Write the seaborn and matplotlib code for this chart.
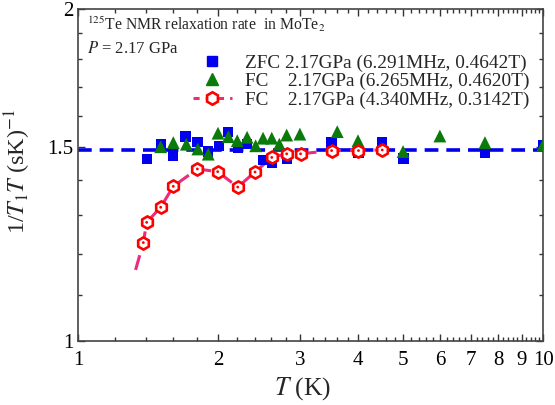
import numpy as np
import matplotlib
matplotlib.use("Agg")
import matplotlib.pyplot as plt
from matplotlib.lines import Line2D
from matplotlib.ticker import FixedLocator, NullFormatter, FixedFormatter
import seaborn as sns

# ---- data ----
zfc_T = [1.405, 1.506, 1.603, 1.704, 1.806, 1.906, 2.007, 2.105, 2.21, 2.305,
         2.503, 2.61, 2.81, 3.51, 4.01, 4.51, 5.01, 7.5, 10.0]
zfc_v = [1.462, 1.508, 1.472, 1.532, 1.516, 1.485, 1.503, 1.548, 1.495, 1.508,
         1.459, 1.449, 1.462, 1.513, 1.480, 1.513, 1.464, 1.482, 1.506]

fc1_T = [1.506, 1.603, 1.71, 1.81, 1.906, 2.0, 2.105, 2.2, 2.31, 2.41, 2.5, 2.61,
         2.71, 2.81, 3.0, 3.61, 4.0, 5.0, 6.0, 7.5, 10.0]
fc1_v = [1.500, 1.513, 1.508, 1.493, 1.477, 1.543, 1.532, 1.519, 1.530, 1.503,
         1.527, 1.527, 1.508, 1.537, 1.540, 1.548, 1.519, 1.485, 1.534, 1.513, 1.506]

fc2_T = [1.382, 1.405, 1.506, 1.603, 1.806, 1.997, 2.205, 2.403, 2.61, 2.81,
         3.01, 3.51, 4.01, 4.51]
fc2_v = [1.228, 1.281, 1.322, 1.381, 1.432, 1.424, 1.379, 1.423, 1.467, 1.478,
         1.478, 1.488, 1.488, 1.490]

guide_T = [1.33] + fc2_T
guide_v = [1.16] + fc2_v

ref_level = 1.49

x_ticks = [1, 2, 3, 4, 5, 6, 7, 8, 9, 10]
x_labels = ["1", "2", "3", "4", "5", "6", "7", "8", "9", "10"]
y_ticks = [1, 1.5, 2]
y_labels = ["1", "1.5", "2"]

labels = ["ZFC 2.17GPa (6.291MHz, 0.4642T)",
          "FC    2.17GPa (6.265MHz, 0.4620T)",
          "FC    2.17GPa (4.340MHz, 0.3142T)"]

# ---- style ----
sns.set_style("ticks")
plt.rcParams["font.family"] = ["Liberation Serif", "DejaVu Serif"]
plt.rcParams["mathtext.fontset"] = "stix"

fig = plt.figure(figsize=(5.55, 4.05), dpi=100)
ax = fig.add_axes([0.1405, 0.158, 0.838, 0.820])

pink = "#ee2a7b"
ax.axhline(ref_level, color="#0000ee", lw=2.6, dashes=(3.8, 2.2), zorder=1)

sns.lineplot(x=guide_T, y=guide_v, ax=ax, color=pink, lw=2.2, sort=False,
             legend=False, zorder=2)
ax.lines[-1].set_dashes((5, 3))

sns.scatterplot(x=zfc_T, y=zfc_v, ax=ax, marker="s", color="#0000ee", s=55,
                edgecolor="none", zorder=3, legend=False)
sns.scatterplot(x=fc1_T, y=fc1_v, ax=ax, marker="^", color="#0a7a0a", s=85,
                edgecolor="none", zorder=4, legend=False)
sns.scatterplot(x=fc2_T, y=fc2_v, ax=ax, marker="h", color="white", s=78,
                edgecolor="#ff0000", linewidth=1.9, zorder=5, legend=False)
sns.scatterplot(x=fc2_T, y=fc2_v, ax=ax, marker="o", color="#ff0000", s=4,
                edgecolor="none", zorder=6, legend=False)

ax.set_xscale("log")
ax.set_yscale("log")
ax.set_xlim(1, 10)
ax.set_ylim(1, 2)

ax.xaxis.set_major_locator(FixedLocator(x_ticks))
ax.xaxis.set_major_formatter(FixedFormatter(x_labels))
xminor = [v for v in np.round(np.arange(1.2, 10.0, 0.2), 1) if abs(v - round(v)) > 1e-6]
ax.xaxis.set_minor_locator(FixedLocator(xminor))
ax.xaxis.set_minor_formatter(NullFormatter())

ax.yaxis.set_major_locator(FixedLocator(y_ticks))
ax.yaxis.set_major_formatter(FixedFormatter(y_labels))
ax.yaxis.set_minor_locator(FixedLocator([1.1, 1.2, 1.3, 1.4, 1.6, 1.7, 1.8, 1.9]))
ax.yaxis.set_minor_formatter(NullFormatter())

ax.tick_params(which="both", direction="in", top=True, right=True,
               colors="#333333", labelcolor="black", labelsize=15)
ax.tick_params(which="major", length=5, width=1)
ax.tick_params(which="minor", length=3, width=1)
ax.tick_params(axis="x", pad=7)
for sp in ax.spines.values():
    sp.set_color("#444444")
    sp.set_linewidth(1.2)

ax.set_xlabel(r"$T$ (K)", fontsize=18.5)
ax.xaxis.set_label_coords(0.483, -0.102)
ax.set_ylabel(r"1/$T_1T$ (sK)$^{-1}$", fontsize=17.5)
ax.yaxis.set_label_coords(-0.097, 0.51)

ax.text(0.02, 0.955, r"$^{125}$Te NMR relaxation rate  in MoTe$_2$",
        transform=ax.transAxes, fontsize=11.3, va="center", ha="left")
ax.text(0.02, 0.88, r"$P$ = 2.17 GPa",
        transform=ax.transAxes, fontsize=12, va="center", ha="left")

handles = [
    Line2D([], [], ls="none", marker="s", color="#0000ee", markersize=7),
    Line2D([], [], ls="none", marker="^", color="#0a7a0a", markersize=9),
    Line2D([], [], ls=(0, (2, 2)), color=pink, lw=2.2, marker="h",
           markerfacecolor="white", markeredgecolor="#ff0000",
           markeredgewidth=1.9, markersize=9),
]
ax.legend(handles, labels, loc="upper right", bbox_to_anchor=(1.0, 0.905),
          frameon=False, fontsize=13.9, handlelength=2.0, handletextpad=0.7,
          labelspacing=0.05, borderaxespad=0.3)

fig.savefig("out.png", dpi=100)
